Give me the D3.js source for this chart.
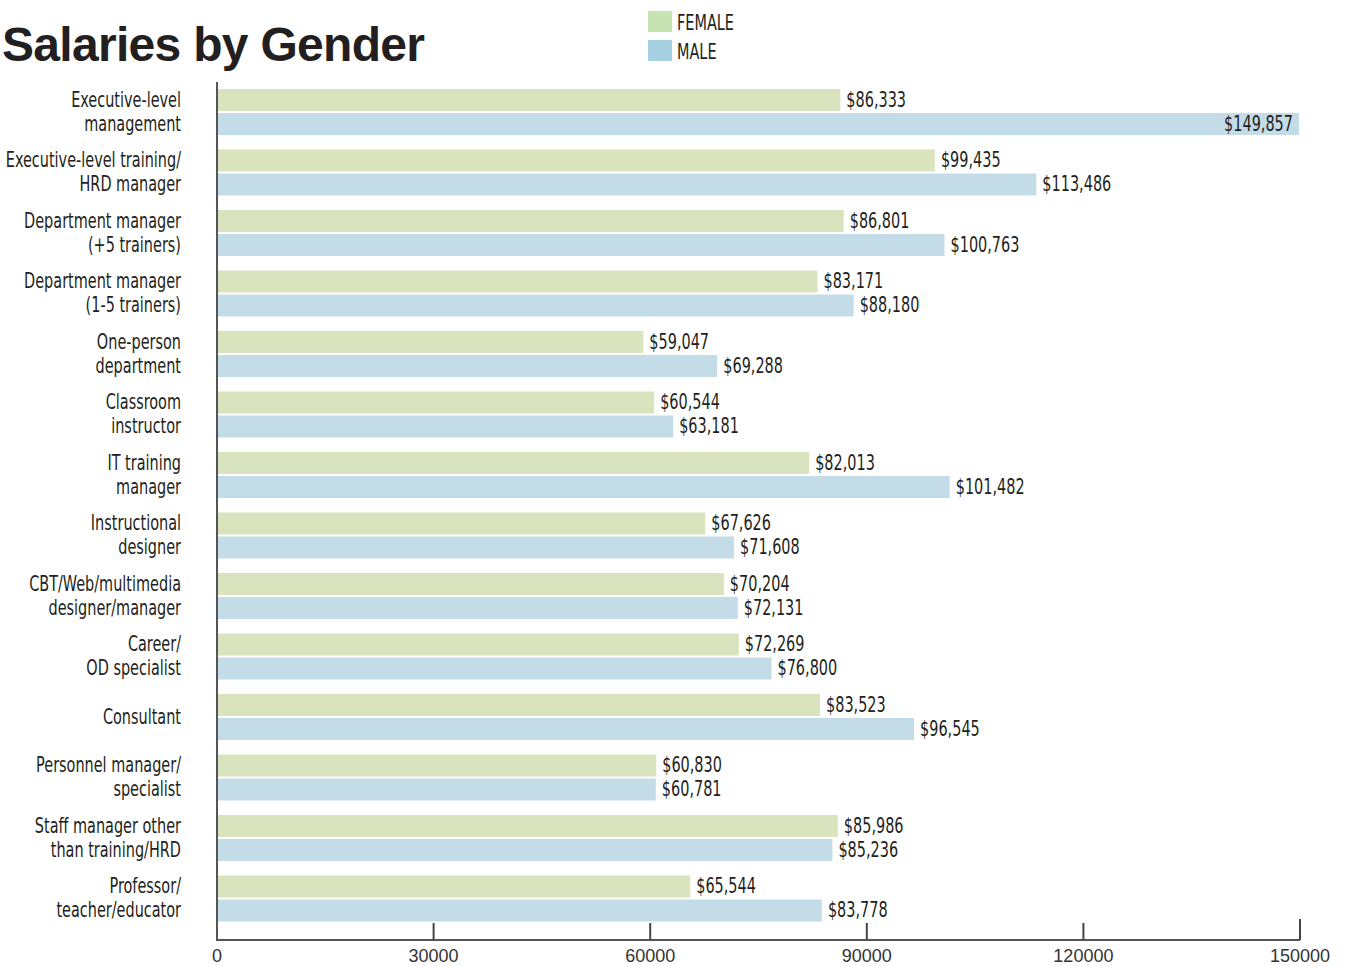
<!DOCTYPE html>
<html><head><meta charset="utf-8">
<script src="https://cdn.jsdelivr.net/npm/d3@7"></script>
<style>
body{margin:0;background:#fff;}
.cond{font-family:"Liberation Sans Narrow","DejaVu Sans Condensed","Arial Narrow",sans-serif;}
</style></head>
<body><svg id="c" width="1348" height="966"></svg>
<script>
const categories = [
  ["Executive-level","management"],
  ["Executive-level training/","HRD manager"],
  ["Department manager","(+5 trainers)"],
  ["Department manager","(1-5 trainers)"],
  ["One-person","department"],
  ["Classroom","instructor"],
  ["IT training","manager"],
  ["Instructional","designer"],
  ["CBT/Web/multimedia","designer/manager"],
  ["Career/","OD specialist"],
  ["Consultant"],
  ["Personnel manager/","specialist"],
  ["Staff manager other","than training/HRD"],
  ["Professor/","teacher/educator"]
];
const female = [86333,99435,86801,83171,59047,60544,82013,67626,70204,72269,83523,60830,85986,65544];
const male   = [149857,113486,100763,88180,69288,63181,101482,71608,72131,76800,96545,60781,85236,83778];
const series = ["FEMALE","MALE"];
const tickValues = [0,30000,60000,90000,120000,150000];

const barColors = {FEMALE:"#d9e4bf", MALE:"#c3dce8"};
const legendColors = {FEMALE:"#c8e3b2", MALE:"#a6d1e3"};

const svg = d3.select("#c");
const x = d3.scaleLinear().domain([0,150000]).range([217,1300]);
const idx = categories.map((d,i)=>i);
const y = d3.scaleBand().domain(idx).range([89,921.5]).paddingInner(0.24).paddingOuter(0);
const ys = d3.scaleBand().domain(series).range([0,y.bandwidth()]).paddingInner(0.085);
const fmt = d3.format("$,");
const SX = 0.73; // condensed look
const FS = 22;

function condText(parent, tx, ty, anchor, size, txt){
  const gg = parent.append("g").attr("transform",`translate(${tx},${ty}) scale(${SX},1)`);
  gg.append("text").attr("class","cond").attr("x",0).attr("y",0).attr("dy","0.36em")
    .attr("text-anchor",anchor).attr("font-size",size).attr("fill","#231f20").text(txt);
  return gg;
}

// title
svg.append("text").attr("x",2).attr("y",61)
  .attr("font-family","Liberation Sans, Arial, sans-serif").attr("font-weight","bold")
  .attr("font-size",48).attr("letter-spacing","-0.7").attr("fill","#231f20")
  .text("Salaries by Gender");

// legend
const lg = svg.append("g");
series.forEach((s,i)=>{
  lg.append("rect").attr("x",648).attr("y",11+i*29).attr("width",24).attr("height",21)
    .attr("fill",legendColors[s]);
  condText(lg, 677, 22+i*29, "start", FS, s);
});

// bars
const data = idx.map(i=>({i, vals:[{s:"FEMALE",v:female[i]},{s:"MALE",v:male[i]}]}));
const g = svg.append("g");
const groups = g.selectAll("g.grp").data(data).join("g").attr("class","grp")
  .attr("transform",d=>`translate(0,${y(d.i)})`);
groups.selectAll("rect").data(d=>d.vals).join("rect")
  .attr("x",x(0)).attr("y",d=>ys(d.s)).attr("width",d=>x(d.v)-x(0)).attr("height",ys.bandwidth())
  .attr("fill",d=>barColors[d.s]);
groups.each(function(d){
  const gg = d3.select(this);
  d.vals.forEach(v=>{
    const inside = v.v>140000;
    condText(gg, inside ? x(v.v)-6 : x(v.v)+6, ys(v.s)+ys.bandwidth()/2 - 1,
      inside ? "end":"start", FS, fmt(v.v));
  });
});

// category labels
const lab = svg.append("g");
categories.forEach((lines,i)=>{
  const cy = y(i)+y.bandwidth()/2;
  const n = lines.length;
  lines.forEach((t,k)=>{
    condText(lab, 181, cy + (k-(n-1)/2)*24 - 1, "end", FS, t);
  });
});

// axes
const ax = svg.append("g").attr("transform","translate(0,940)");
ax.append("line").attr("x1",x(0)).attr("x2",x(150000)).attr("y1",0).attr("y2",0)
  .attr("stroke","#555").attr("stroke-width",2);
ax.selectAll("line.tick").data(tickValues.filter(d=>d>0)).join("line").attr("class","tick")
  .attr("x1",d=>x(d)).attr("x2",d=>x(d)).attr("y1",0).attr("y2",d=>d===150000?-21:-17)
  .attr("stroke","#444").attr("stroke-width",2);
ax.selectAll("text").data(tickValues).join("text")
  .attr("x",d=>x(d)).attr("y",16).attr("dy","0.36em").attr("text-anchor","middle")
  .attr("font-family","Liberation Sans, Arial, sans-serif").attr("font-size",18).attr("fill","#333")
  .text(d=>d3.format("d")(d));
svg.append("line").attr("x1",x(0)).attr("x2",x(0)).attr("y1",82).attr("y2",941)
  .attr("stroke","#555").attr("stroke-width",2);
</script></body></html>
